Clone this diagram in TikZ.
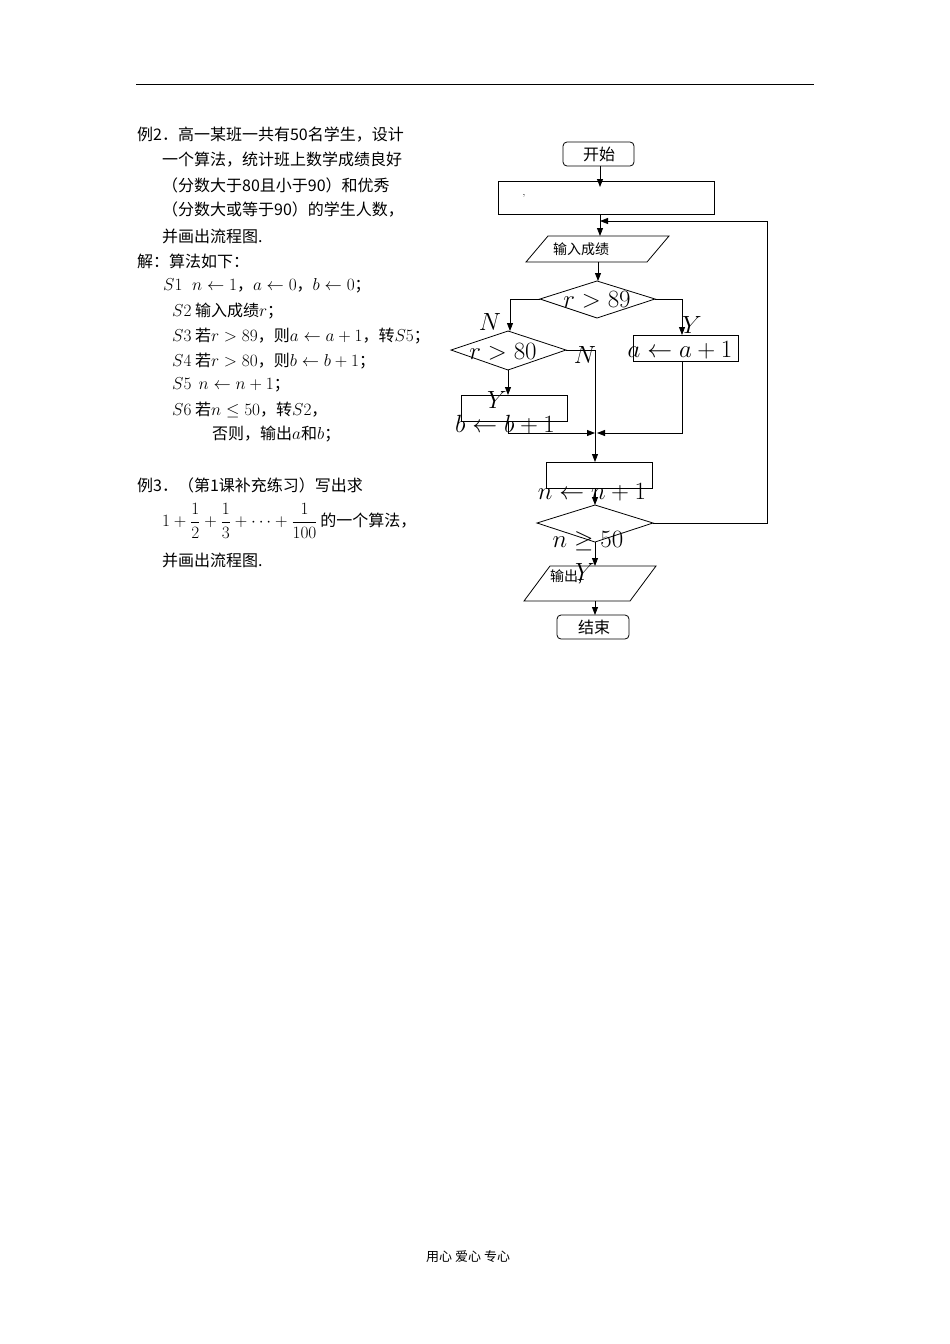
\documentclass[tikz,border=0pt]{standalone}
\usepackage{amsmath,amssymb}
\usepackage{fontspec}
\newfontfamily\cjk{Noto Sans CJK SC}
\usetikzlibrary{shapes.geometric,arrows.meta}
\tikzset{
 box/.style={draw,line width=0.8pt},
 ln/.style={draw,line width=0.8pt},
 arr/.style={ln,-{Triangle[length=8pt,width=6pt]}},
 txt/.style={anchor=west,inner sep=0pt,font=\cjk\fontsize{16}{18}\selectfont},
 ftxt/.style={anchor=west,inner sep=0pt,font=\cjk\fontsize{14}{16}\selectfont},
 big/.style={inner sep=0pt,font=\fontsize{38}{40}\selectfont},
 mid/.style={inner sep=0pt,font=\fontsize{26}{28}\selectfont},
}
\begin{document}
\begin{tikzpicture}[x=1pt,y=-1pt]
\useasboundingbox (0,0) rectangle (950,1344);
\draw[line width=0.8pt] (136,84) -- (814,84);
% left text
\node[txt] (t1) at (137,135) {例2．高一某班一共有50名学生，设计};
\node[txt] (t2) at (162,160) {一个算法，统计班上数学成绩良好};
\node[txt] (t3) at (162,185) {（分数大于80且小于90）和优秀};
\node[txt] (t4) at (162,210) {（分数大或等于90）的学生人数，};
\node[txt] (t5) at (162,236) {并画出流程图.};
\node[txt] (t6) at (137,261) {解：算法如下：};
\node[txt] (s1) at (163,286) {$S1\;\; n\leftarrow 1$，$a\leftarrow 0$，$b\leftarrow 0$；};
\node[txt] (s2) at (172,311) {$S2$\ 输入成绩$r$；};
\node[txt] (s3) at (172,336) {$S3$\ 若$r>89$，则$a\leftarrow a+1$，转$S5$；};
\node[txt] (s4) at (172,361) {$S4$\ 若$r>80$，则$b\leftarrow b+1$；};
\node[txt] (s5) at (172,385) {$S5$\ \ $n\leftarrow n+1$；};
\node[txt] (s6) at (172,410) {$S6$\ 若$n\leq 50$，转$S2$，};
\node[txt] (s7) at (212,434) {否则，输出$a$和$b$；};
\node[txt] (e1) at (137,485) {例3．（第1课补充练习）写出求};
\node[txt] (e2) at (162,521) {$1+\dfrac12+\dfrac13+\cdots+\dfrac1{100}$\,的一个算法，};
\node[txt] (e3) at (162,560) {并画出流程图.};
\node[ftxt] (ft) at (426,1257) {\fontsize{13}{15}\selectfont 用心\ 爱心\ 专心};
% flowchart
\draw[box,rounded corners=4pt] (563,142) rectangle (634,166);
\node[txt] (start) at (583,154) {开始};
\coordinate (startS) at (600,166);
\draw[box] (498,181) rectangle (714,214);
\coordinate (initT) at (600,187);
\node[inner sep=0pt] (comma) at (524,196) {,};
\draw[arr] (startS) -- (initT);
\coordinate (initS) at (600,214);
\coordinate (inpT) at (600,236);
\draw[arr] (initS) -- (inpT);
\draw[box] (548,236) -- (669,236) -- (647,262) -- (526,262) -- cycle;
\node[ftxt] (inp) at (553,249) {输入成绩};
\draw[box] (540,299) -- (597,281) -- (655,299) -- (597,318) -- cycle;
\node[mid] (d1) at (597,300) {$r>89$};
\draw[arr] (598,262) -- (598,281);
\draw[box] (451,350) -- (508,331) -- (566,350) -- (508,370) -- cycle;
\node[mid] (d2) at (503,352) {$r>80$};
\draw[arr] (540,299) -- (510,299) -- (510,331);
\node[big] (N1) at (490,322) {$N$};
\draw[box] (633,335) rectangle (738,361);
\node[mid] (abox) at (680,350) {$a\leftarrow a+1$};
\draw[arr] (655,299) -- (682,299) -- (682,335);
\node[big] (Y1) at (692,325) {$Y$};
\draw[box] (461,395) rectangle (567,421);
\draw[arr] (508,370) -- (508,395);
\node[big] (Y2) at (497,400) {$Y$};
\node[big] (bbox) at (505,425) {$b\leftarrow b+1$};
\draw[ln] (566,350) -- (595,350);
\node[big] (N2) at (585,355) {$N$};
\draw[box] (546,462) rectangle (652,488);
\draw[arr] (595,350) -- (595,462);
\draw[arr] (508,421) -- (508,433) -- (595,433);
\draw[arr] (682,361) -- (682,433) -- (597,433);
\node[big] (nbox) at (592,492) {$n\leftarrow n+1$};
\draw[box] (537,523) -- (595,505) -- (653,523) -- (595,542) -- cycle;
\draw[arr] (595,488) -- (595,505);
\draw[ln] (653,523) -- (767,523) -- (767,221);
\draw[arr] (767,221) -- (600,221);
\node[big] (d3) at (588,541) {$n\geq 50$};
\draw[box] (550,566) -- (656,566) -- (630,601) -- (524,601) -- cycle;
\draw[arr] (595,542) -- (595,566);
\node[ftxt] (out) at (550,577) {输出,};
\node[big] (Y3) at (585,572) {$Y$};
\draw[box,rounded corners=4pt] (557,615) rectangle (629,639);
\draw[arr] (595,601) -- (595,615);
\node[txt] (end) at (578,627) {结束};
\end{tikzpicture}
\end{document}
